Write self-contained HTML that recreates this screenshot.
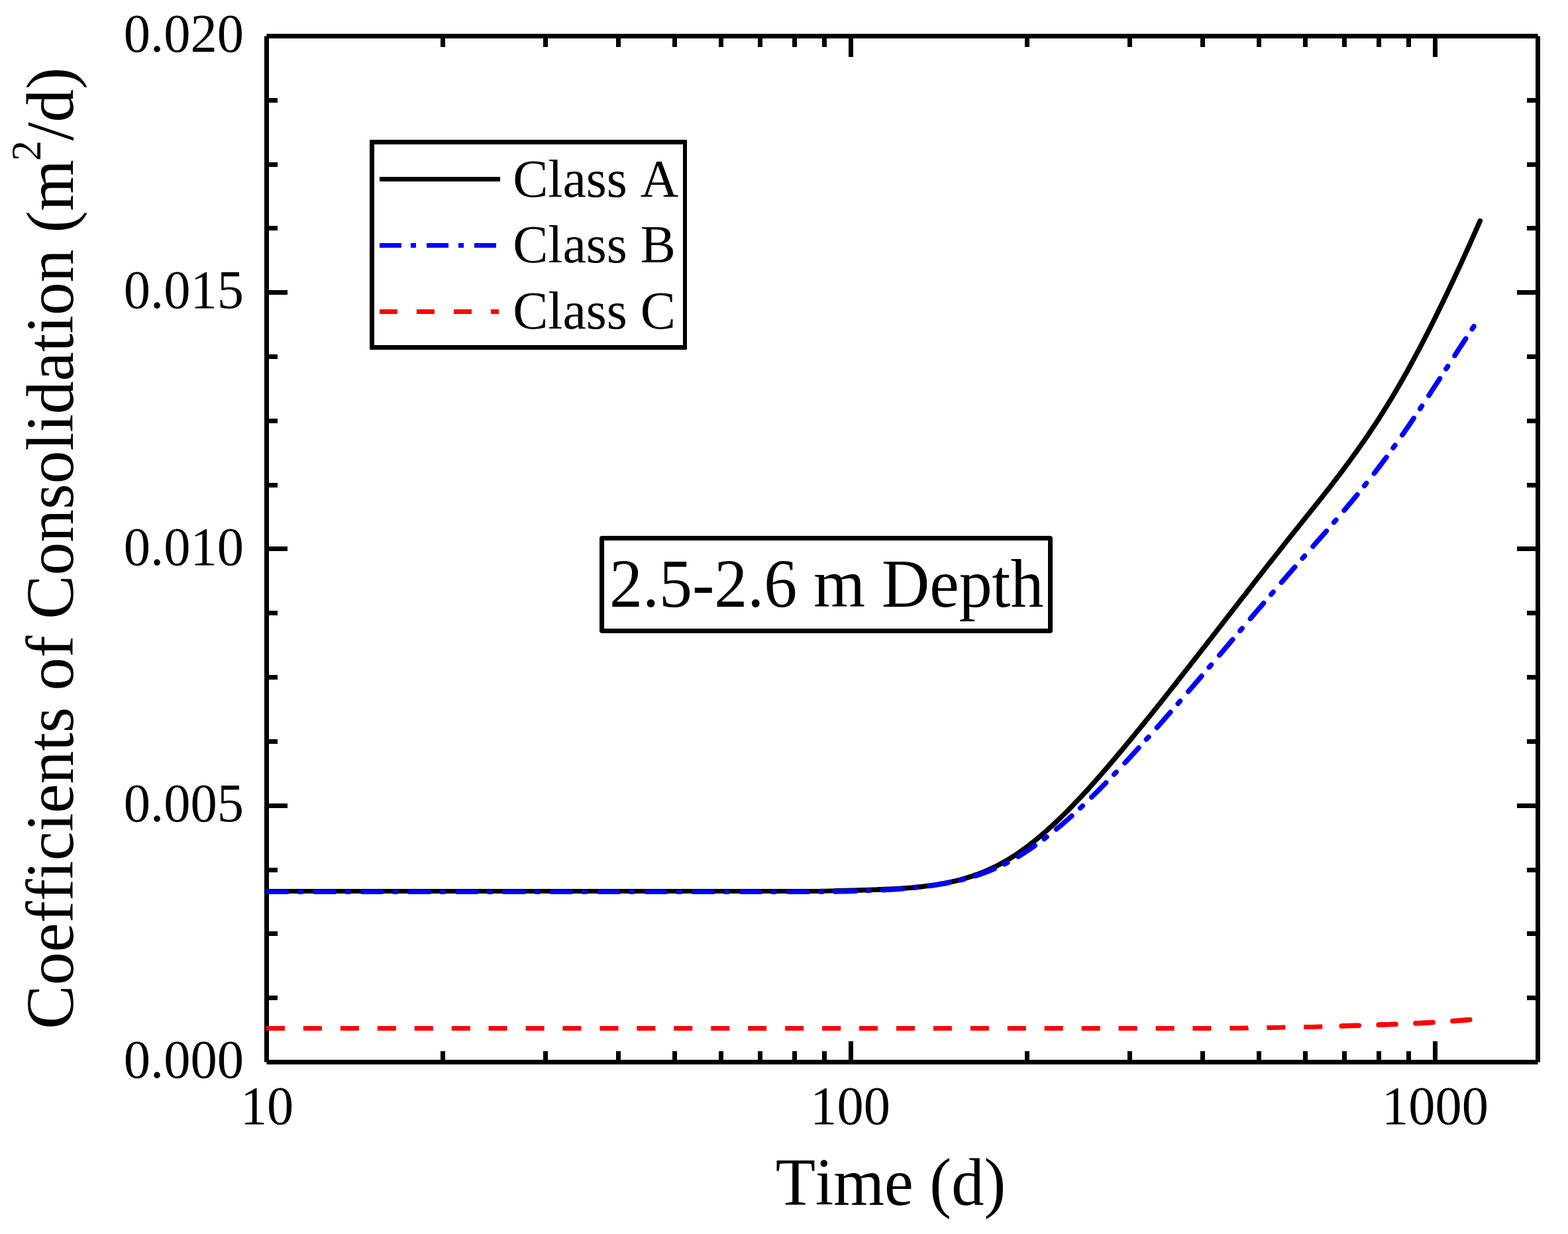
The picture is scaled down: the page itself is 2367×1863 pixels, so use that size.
<!DOCTYPE html>
<html lang="en"><head><meta charset="utf-8"><title>Coefficients of Consolidation vs Time</title>
<style>
html,body{margin:0;padding:0;background:#fff;}
body{width:2367px;height:1863px;overflow:hidden;}
svg{display:block;}
text{font-family:"Liberation Serif","DejaVu Serif",serif;fill:#000;font-variant-ligatures:none;font-kerning:none;}
.ax{stroke:#000;stroke-width:7;fill:none;stroke-linecap:butt;}
.tl{font-size:80px;}
.big{font-size:100px;}
</style></head><body>
<svg width="2367" height="1863" viewBox="0 0 2367 1863" shape-rendering="geometricPrecision">
<rect x="0" y="0" width="2367" height="1863" fill="#fff"/>
<g class="ax">
<path d="M402.5,54.5 H2321.5"/>
<path d="M402.5,1603.5 H2321.5"/>
<path d="M402.5,54.5 V1603.5"/>
<path d="M2321.5,54.5 V1603.5"/>
<path d="M402.5,151.50 h16.5 M2321.5,151.50 h-16.5 M402.5,248.50 h16.5 M2321.5,248.50 h-16.5 M402.5,344.50 h16.5 M2321.5,344.50 h-16.5 M402.5,441.50 h31.5 M2321.5,441.50 h-31.5 M402.5,538.50 h16.5 M2321.5,538.50 h-16.5 M402.5,635.50 h16.5 M2321.5,635.50 h-16.5 M402.5,732.50 h16.5 M2321.5,732.50 h-16.5 M402.5,828.50 h31.5 M2321.5,828.50 h-31.5 M402.5,925.50 h16.5 M2321.5,925.50 h-16.5 M402.5,1022.50 h16.5 M2321.5,1022.50 h-16.5 M402.5,1119.50 h16.5 M2321.5,1119.50 h-16.5 M402.5,1216.50 h31.5 M2321.5,1216.50 h-31.5 M402.5,1313.50 h16.5 M2321.5,1313.50 h-16.5 M402.5,1409.50 h16.5 M2321.5,1409.50 h-16.5 M402.5,1506.50 h16.5 M2321.5,1506.50 h-16.5 M668.50,1603.5 v-16.5 M668.50,54.5 v16.5 M823.50,1603.5 v-16.5 M823.50,54.5 v16.5 M933.50,1603.5 v-16.5 M933.50,54.5 v16.5 M1018.50,1603.5 v-16.5 M1018.50,54.5 v16.5 M1088.50,1603.5 v-16.5 M1088.50,54.5 v16.5 M1147.50,1603.5 v-16.5 M1147.50,54.5 v16.5 M1199.50,1603.5 v-16.5 M1199.50,54.5 v16.5 M1244.50,1603.5 v-16.5 M1244.50,54.5 v16.5 M1284.50,1603.5 v-31.5 M1284.50,54.5 v31.5 M1550.50,1603.5 v-16.5 M1550.50,54.5 v16.5 M1705.50,1603.5 v-16.5 M1705.50,54.5 v16.5 M1815.50,1603.5 v-16.5 M1815.50,54.5 v16.5 M1900.50,1603.5 v-16.5 M1900.50,54.5 v16.5 M1970.50,1603.5 v-16.5 M1970.50,54.5 v16.5 M2029.50,1603.5 v-16.5 M2029.50,54.5 v16.5 M2081.50,1603.5 v-16.5 M2081.50,54.5 v16.5 M2126.50,1603.5 v-16.5 M2126.50,54.5 v16.5 M2166.50,1603.5 v-31.5 M2166.50,54.5 v31.5"/>
</g>
<text class="tl" transform="translate(368.1,78.1) scale(1.007,1.02)" text-anchor="end">0.020</text>
<text class="tl" transform="translate(368.1,465.1) scale(1.007,1.02)" text-anchor="end">0.015</text>
<text class="tl" transform="translate(368.1,853.1) scale(1.007,1.02)" text-anchor="end">0.010</text>
<text class="tl" transform="translate(368.1,1240.1) scale(1.007,1.02)" text-anchor="end">0.005</text>
<text class="tl" transform="translate(368.1,1627.1) scale(1.007,1.02)" text-anchor="end">0.000</text>
<text class="tl" transform="translate(403.1,1697.1) scale(1.005,1.02)" text-anchor="middle">10</text>
<text class="tl" transform="translate(1283.6,1697.1) scale(1.005,1.02)" text-anchor="middle">100</text>
<text class="tl" transform="translate(2166.5,1697.1) scale(1.005,1.02)" text-anchor="middle">1000</text>
<text class="big" transform="translate(1344.45,1818.6) scale(0.986,1.01)" text-anchor="middle">Time (d)</text>
<text class="big" transform="translate(109.5,827.7) rotate(-90) scale(0.995,1.01)" text-anchor="middle">Coefficients of Consolidation (m<tspan font-size="62px" dx="-2" dy="-48">2</tspan><tspan dy="48">/d)</tspan></text>
<path d="M402.5,1345.5 L1200.0,1345.5 L1204.0,1345.5 L1208.0,1345.5 L1212.0,1345.5 L1216.0,1345.5 L1220.0,1345.5 L1224.0,1345.5 L1228.0,1345.4 L1232.0,1345.4 L1236.0,1345.4 L1240.0,1345.3 L1244.0,1345.3 L1248.0,1345.2 L1252.0,1345.1 L1256.0,1345.1 L1260.0,1345.0" fill="none" stroke="#000" stroke-width="7" stroke-linecap="butt" stroke-linejoin="round"/>
<path d="M1260.0,1345.0 L1264.0,1344.9 L1268.0,1344.8 L1272.0,1344.7 L1276.0,1344.6 L1280.0,1344.5 L1284.0,1344.4 L1288.0,1344.3 L1292.0,1344.2 L1296.0,1344.0 L1300.0,1343.9 L1304.0,1343.8 L1308.0,1343.7 L1312.0,1343.5 L1316.0,1343.4 L1320.0,1343.2 L1324.0,1343.1 L1328.0,1342.9 L1332.0,1342.8 L1336.0,1342.6 L1340.0,1342.4 L1344.0,1342.2 L1348.0,1342.0 L1352.0,1341.8 L1356.0,1341.6 L1360.0,1341.4 L1364.0,1341.1 L1368.0,1340.8 L1372.0,1340.5 L1376.0,1340.2 L1380.0,1339.8 L1384.0,1339.4 L1388.0,1339.0 L1392.0,1338.6 L1396.0,1338.1 L1400.0,1337.6 L1404.0,1337.1 L1408.0,1336.5 L1412.0,1335.9 L1416.0,1335.3 L1420.0,1334.6 L1424.0,1333.9 L1428.0,1333.1 L1432.0,1332.3 L1436.0,1331.4 L1440.0,1330.5 L1444.0,1329.6 L1448.0,1328.6 L1452.0,1327.5 L1456.0,1326.4 L1460.0,1325.2 L1464.0,1323.9 L1468.0,1322.6 L1472.0,1321.2 L1476.0,1319.8 L1480.0,1318.3 L1484.0,1316.7 L1488.0,1315.0 L1492.0,1313.3 L1496.0,1311.5 L1500.0,1309.6 L1504.0,1307.6 L1508.0,1305.6 L1512.0,1303.4 L1516.0,1301.2 L1520.0,1298.9 L1524.0,1296.5 L1528.0,1294.0 L1532.0,1291.4 L1536.0,1288.7 L1540.0,1285.9 L1544.0,1283.1 L1548.0,1280.2 L1552.0,1277.2 L1556.0,1274.1 L1560.0,1270.9 L1564.0,1267.7 L1568.0,1264.4 L1572.0,1261.0 L1576.0,1257.5 L1580.0,1254.0 L1584.0,1250.4 L1588.0,1246.8 L1592.0,1243.1 L1596.0,1239.3 L1600.0,1235.5 L1604.0,1231.6 L1608.0,1227.6 L1612.0,1223.6 L1616.0,1219.5 L1620.0,1215.4 L1624.0,1211.2 L1628.0,1207.0 L1632.0,1202.8 L1636.0,1198.5 L1640.0,1194.1 L1644.0,1189.7 L1648.0,1185.3 L1652.0,1180.8 L1656.0,1176.3 L1660.0,1171.7 L1664.0,1167.1 L1668.0,1162.5 L1672.0,1157.9 L1676.0,1153.2 L1680.0,1148.5 L1684.0,1143.8 L1688.0,1139.0 L1692.0,1134.3 L1696.0,1129.5 L1700.0,1124.6 L1704.0,1119.8 L1708.0,1115.0 L1712.0,1110.1 L1716.0,1105.2 L1720.0,1100.3 L1724.0,1095.4 L1728.0,1090.5 L1732.0,1085.5 L1736.0,1080.6 L1740.0,1075.6 L1744.0,1070.6 L1748.0,1065.6 L1752.0,1060.6 L1756.0,1055.6 L1760.0,1050.5 L1764.0,1045.5 L1768.0,1040.4 L1772.0,1035.4 L1776.0,1030.3 L1780.0,1025.2 L1784.0,1020.1 L1788.0,1015.0 L1792.0,1009.9 L1796.0,1004.8 L1800.0,999.7 L1804.0,994.6 L1808.0,989.5 L1812.0,984.3 L1816.0,979.2 L1820.0,974.1 L1824.0,968.9 L1828.0,963.8 L1832.0,958.6 L1836.0,953.5 L1840.0,948.3 L1844.0,943.1 L1848.0,938.0 L1852.0,932.8 L1856.0,927.7 L1860.0,922.5 L1864.0,917.4 L1868.0,912.2 L1872.0,907.0 L1876.0,901.9 L1880.0,896.8 L1884.0,891.6 L1888.0,886.5 L1892.0,881.3 L1896.0,876.2 L1900.0,871.1 L1904.0,866.0 L1908.0,860.9 L1912.0,855.7 L1916.0,850.7 L1920.0,845.6 L1924.0,840.5 L1928.0,835.4 L1932.0,830.3 L1936.0,825.3 L1940.0,820.2 L1944.0,815.2 L1948.0,810.2 L1952.0,805.2 L1956.0,800.2 L1960.0,795.2 L1964.0,790.2 L1968.0,785.2 L1972.0,780.2 L1976.0,775.2 L1980.0,770.2 L1984.0,765.2 L1988.0,760.2 L1992.0,755.1 L1996.0,750.1 L2000.0,745.0 L2004.0,739.9 L2008.0,734.8 L2012.0,729.6 L2016.0,724.4 L2020.0,719.2 L2024.0,713.9 L2028.0,708.6 L2032.0,703.2 L2036.0,697.8 L2040.0,692.3 L2044.0,686.8 L2048.0,681.2 L2052.0,675.6 L2056.0,669.9 L2060.0,664.2 L2064.0,658.3 L2068.0,652.4 L2072.0,646.4 L2076.0,640.4 L2080.0,634.3 L2084.0,628.0 L2088.0,621.7 L2092.0,615.3 L2096.0,608.8 L2100.0,602.3 L2104.0,595.6 L2108.0,588.8 L2112.0,581.9 L2116.0,575.0 L2120.0,567.9 L2124.0,560.8 L2128.0,553.5 L2132.0,546.2 L2136.0,538.8 L2140.0,531.3 L2144.0,523.7 L2148.0,516.1 L2152.0,508.3 L2156.0,500.5 L2160.0,492.6 L2164.0,484.6 L2168.0,476.6 L2172.0,468.4 L2176.0,460.2 L2180.0,452.0 L2184.0,443.6 L2188.0,435.2 L2192.0,426.8 L2196.0,418.2 L2200.0,409.6 L2204.0,401.0 L2208.0,392.2 L2212.0,383.5 L2216.0,374.6 L2220.0,365.7 L2224.0,356.8 L2228.0,347.8 L2232.0,338.7 L2234.3,333.5" fill="none" stroke="#000" stroke-width="7.6" stroke-linecap="round" stroke-linejoin="round"/>
<path d="M402.0,1346.5 L435.7,1346.5 M449.8,1346.5 L457.7,1346.5 M473.4,1346.5 L507.1,1346.5 M521.2,1346.5 L529.1,1346.5 M544.9,1346.5 L578.6,1346.5 M592.7,1346.5 L600.6,1346.5 M616.3,1346.5 L650.0,1346.5 M664.1,1346.5 L672.0,1346.5 M687.8,1346.5 L721.5,1346.5 M735.6,1346.5 L743.5,1346.5 M759.2,1346.5 L792.9,1346.5 M807.0,1346.5 L814.9,1346.5 M830.7,1346.5 L864.4,1346.5 M878.5,1346.5 L886.4,1346.5 M902.1,1346.5 L935.8,1346.5 M949.9,1346.5 L957.8,1346.5 M973.6,1346.5 L1007.3,1346.5 M1021.4,1346.5 L1029.3,1346.5 M1045.0,1346.5 L1078.7,1346.5 M1092.8,1346.5 L1100.7,1346.5 M1116.5,1346.5 L1150.2,1346.5 M1164.3,1346.5 L1172.2,1346.5 M1187.9,1346.5 L1200.0,1346.5 L1204.0,1346.5 L1208.0,1346.5 L1212.0,1346.4 L1216.0,1346.4 L1220.0,1346.4 L1221.6,1346.4 M1235.7,1346.3 L1236.0,1346.3 L1240.0,1346.2 L1243.6,1346.2 M1307.2,1344.8 L1308.0,1344.8 L1312.0,1344.6 L1315.1,1344.5 M1378.5,1340.4 L1380.0,1340.2 L1384.0,1339.8 L1386.3,1339.5" fill="none" stroke="#0000ff" stroke-width="7" stroke-linecap="butt"/>
<path d="M1261.0,1346.0 L1264.0,1345.9 L1268.0,1345.8 L1272.0,1345.8 L1276.0,1345.7 L1280.0,1345.6 L1284.0,1345.5 L1288.0,1345.4 L1291.5,1345.3 M1332.4,1343.7 L1336.0,1343.5 L1340.0,1343.3 L1344.0,1343.1 L1348.0,1342.8 L1352.0,1342.6 L1356.0,1342.3 L1360.0,1342.0 L1362.8,1341.8 M1403.5,1337.4 L1404.0,1337.3 L1408.0,1336.7 L1412.0,1336.1 L1416.0,1335.5 L1420.0,1334.8 L1424.0,1334.1 L1428.0,1333.4 L1432.0,1332.6 L1433.3,1332.3 M1450.1,1328.6 L1452.0,1328.1 L1454.6,1327.5 M1472.6,1322.3 L1476.0,1321.2 L1480.0,1319.8 L1484.0,1318.4 L1488.0,1317.0 L1492.0,1315.4 L1496.0,1313.8 L1500.0,1312.1 L1501.0,1311.7 M1516.5,1304.5 L1520.0,1302.7 L1520.7,1302.4 M1537.1,1293.2 L1540.0,1291.4 L1544.0,1289.0 L1548.0,1286.4 L1552.0,1283.8 L1556.0,1281.1 L1560.0,1278.3 L1562.4,1276.6 M1576.3,1266.5 L1579.9,1263.6 M1594.6,1251.9 L1596.0,1250.7 L1600.0,1247.4 L1604.0,1244.0 L1608.0,1240.5 L1612.0,1237.0 L1616.0,1233.5 L1617.9,1231.8 M1630.7,1220.0 L1632.0,1218.8 L1634.2,1216.7 M1647.9,1203.5 L1648.0,1203.4 L1652.0,1199.4 L1656.0,1195.5 L1660.0,1191.5 L1664.0,1187.4 L1668.0,1183.3 L1669.6,1181.7 M1681.7,1169.1 L1684.0,1166.7 L1685.0,1165.7 M1698.1,1151.8 L1700.0,1149.7 L1704.0,1145.4 L1708.0,1141.0 L1712.0,1136.7 L1716.0,1132.3 L1718.9,1129.1 M1730.6,1116.2 L1732.0,1114.7 L1733.8,1112.7 M1746.5,1098.4 L1748.0,1096.7 L1752.0,1092.2 L1756.0,1087.7 L1760.0,1083.1 L1764.0,1078.5 L1766.8,1075.3 M1778.3,1062.1 L1780.0,1060.2 L1781.4,1058.5 M1793.9,1044.0 L1796.0,1041.6 L1800.0,1037.0 L1804.0,1032.3 L1808.0,1027.7 L1812.0,1023.0 L1814.0,1020.6 M1825.3,1007.3 L1828.0,1004.2 L1828.4,1003.7 M1840.8,989.1 L1844.0,985.4 L1848.0,980.7 L1852.0,975.9 L1856.0,971.2 L1860.0,966.5 L1860.8,965.6 M1872.0,952.3 L1875.1,948.7 M1887.5,934.1 L1888.0,933.5 L1892.0,928.8 L1896.0,924.1 L1900.0,919.4 L1904.0,914.7 L1907.5,910.6 M1918.9,897.4 L1920.0,896.0 L1922.0,893.7 M1934.5,879.3 L1936.0,877.5 L1940.0,872.9 L1944.0,868.3 L1948.0,863.7 L1952.0,859.1 L1954.7,856.0 M1966.2,842.9 L1968.0,840.8 L1969.4,839.3 M1982.0,824.9 L1984.0,822.6 L1988.0,818.1 L1992.0,813.5 L1996.0,808.9 L2000.0,804.4 L2002.3,801.7 M2013.7,788.6 L2016.0,785.9 L2016.8,785.0 M2029.1,770.5 L2032.0,767.1 L2036.0,762.3 L2040.0,757.5 L2044.0,752.7 L2048.0,747.8 L2048.8,746.9 M2059.7,733.4 L2060.0,733.0 L2062.6,729.6 M2074.4,714.7 L2076.0,712.6 L2080.0,707.4 L2084.0,702.1 L2088.0,696.8 L2092.0,691.4 L2092.9,690.2 M2103.1,676.2 L2104.0,674.9 L2105.9,672.3 M2116.8,656.7 L2120.0,652.2 L2124.0,646.3 L2128.0,640.5 L2132.0,634.6 L2134.1,631.4 M2143.8,617.0 L2144.0,616.6 L2146.4,613.0 M2156.9,597.1 L2160.0,592.3 L2164.0,586.2 L2168.0,580.0 L2172.0,573.9 L2173.6,571.4 M2183.0,556.8 L2184.0,555.4 L2185.6,552.9 M2196.0,536.9 L2196.0,536.8 L2200.0,530.7 L2204.0,524.5 L2208.0,518.4 L2212.0,512.3 L2212.7,511.2 M2222.3,496.7 L2224.0,494.1 L2224.9,492.7" fill="none" stroke="#0000ff" stroke-width="7.6" stroke-linecap="round" stroke-linejoin="round"/>
<path d="M402.0,1552.5 L430.0,1552.5 M457.9,1552.5 L485.9,1552.5 M513.9,1552.5 L541.9,1552.5 M569.8,1552.5 L597.8,1552.5 M625.8,1552.5 L653.8,1552.5 M681.7,1552.5 L709.7,1552.5 M737.6,1552.5 L765.6,1552.5 M793.6,1552.5 L821.6,1552.5 M849.5,1552.5 L877.5,1552.5 M905.5,1552.5 L933.5,1552.5 M961.4,1552.5 L989.4,1552.5 M1017.3,1552.5 L1045.3,1552.5 M1073.3,1552.5 L1101.3,1552.5 M1129.2,1552.5 L1157.2,1552.5 M1185.2,1552.5 L1213.2,1552.5 M1241.1,1552.5 L1269.1,1552.5 M1297.0,1552.5 L1325.0,1552.5 M1353.0,1552.5 L1381.0,1552.5 M1408.9,1552.5 L1436.9,1552.5 M1464.9,1552.5 L1492.9,1552.5 M1520.8,1552.5 L1548.8,1552.5 M1576.7,1552.5 L1604.7,1552.5 M1632.7,1552.5 L1660.7,1552.5 M1688.6,1552.5 L1716.6,1552.5 M1744.6,1552.5 L1772.6,1552.5 M1800.5,1552.5 L1806.0,1552.5 L1812.0,1552.5 L1818.0,1552.5 L1824.0,1552.5 L1828.5,1552.4 M1856.4,1552.3 L1860.0,1552.3 L1866.0,1552.2 L1872.0,1552.2 L1878.0,1552.1 L1884.0,1552.1 L1884.4,1552.0 M1912.4,1551.6 L1914.0,1551.5 L1920.0,1551.4 L1926.0,1551.3 L1932.0,1551.2 L1938.0,1551.1 L1940.4,1551.1 M1968.3,1550.6 L1974.0,1550.5 L1980.0,1550.4 L1986.0,1550.2 L1992.0,1550.1 L1996.3,1550.0" fill="none" stroke="#ff0000" stroke-width="7" stroke-linecap="butt"/>
<path d="M2025.2,1549.0 L2028.0,1548.9 L2034.0,1548.7 L2040.0,1548.5 L2046.0,1548.3 L2051.2,1548.2 M2081.1,1547.2 L2082.0,1547.1 L2088.0,1546.9 L2094.0,1546.7 L2100.0,1546.5 L2106.0,1546.2 L2107.1,1546.2 M2137.0,1544.9 L2142.0,1544.7 L2148.0,1544.4 L2154.0,1544.1 L2160.0,1543.7 L2163.0,1543.5 M2192.9,1541.5 L2196.0,1541.3 L2202.0,1540.8 L2208.0,1540.4 L2214.0,1539.9 L2218.8,1539.5" fill="none" stroke="#ff0000" stroke-width="7.6" stroke-linecap="round" stroke-linejoin="round"/>
<path fill-rule="evenodd" fill="#000" d="M559,211 H1036 L1037,212 V527 L1036,528 H559 L558,527 V212 Z M565,218 V521 H1031 V218 Z"/>
<path d="M573,270.5 H755" stroke="#000" stroke-width="7" fill="none"/>
<path d="M573,370.5 H606 M620,370.5 H628 M644,370.5 H677 M692,370.5 H700 M716,370.5 H749" stroke="#0000ff" stroke-width="7" fill="none"/>
<path d="M573,470.5 H600 M629,470.5 H656 M685,470.5 H712 M741,470.5 H753" stroke="#ff0000" stroke-width="7" fill="none"/>
<text class="tl" transform="translate(774.2,297.1) scale(0.996,1.015)">Class A</text>
<text class="tl" transform="translate(774.2,396.1) scale(0.996,1.015)">Class B</text>
<text class="tl" transform="translate(774.2,496.1) scale(0.996,1.015)">Class C</text>
<rect x="908.5" y="812.5" width="677" height="140" rx="0.5" ry="0.5" fill="#fff" stroke="#000" stroke-width="7" stroke-linejoin="round"/>
<text class="big" transform="translate(920,916.0) scale(1,1.03)">2.5-2.6 m Depth</text>
</svg>
</body></html>
